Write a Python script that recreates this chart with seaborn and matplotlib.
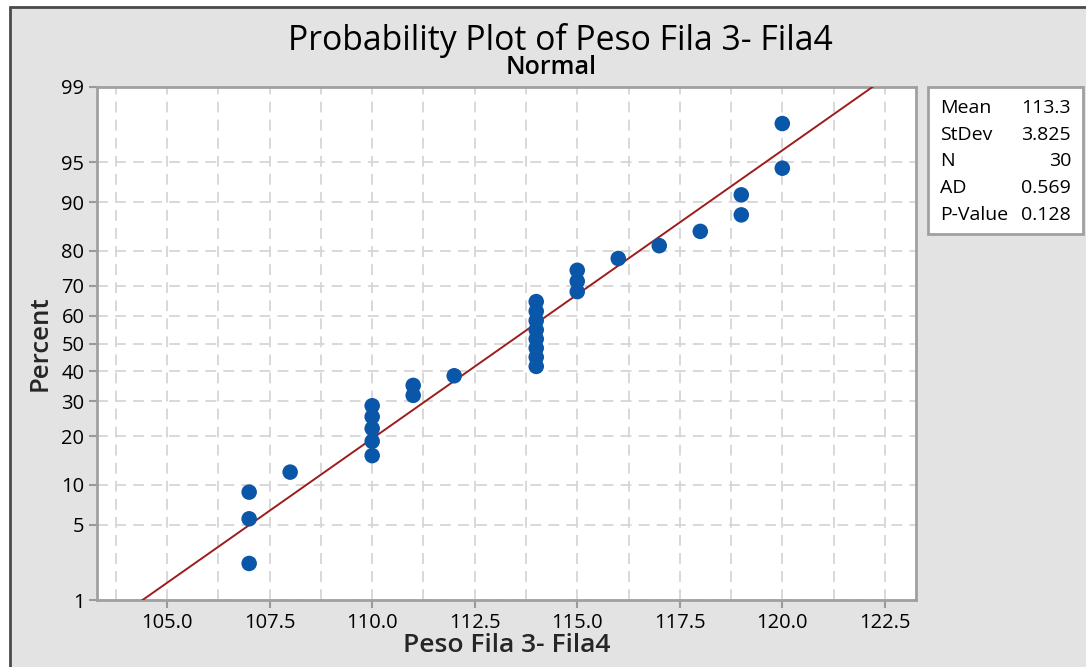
import math
import numpy as np
import pandas as pd
import matplotlib
matplotlib.use("Agg")
import matplotlib.pyplot as plt
from matplotlib.patches import Rectangle
from matplotlib.ticker import MultipleLocator, FixedLocator, FixedFormatter
import seaborn as sns

# ---------------- data ----------------
peso = [107, 107, 107, 108, 110, 110, 110, 110, 110, 111, 111, 112,
        114, 114, 114, 114, 114, 114, 114, 114, 115, 115, 115, 116,
        117, 118, 119, 119, 120, 120]
stat_names = ["Mean", "StDev", "N", "AD", "P-Value"]
stat_values = ["113.3", "3.825", "30", "0.569", "0.128"]
mean_fit = 113.3
sd_fit = 3.825
y_ticks = [1, 5, 10, 20, 30, 40, 50, 60, 70, 80, 90, 95, 99]
x_ticks = [105.0, 107.5, 110.0, 112.5, 115.0, 117.5, 120.0, 122.5]

title = "Probability Plot of Peso Fila 3- Fila4"
subtitle = "Normal"
xlabel = "Peso Fila 3- Fila4"
ylabel = "Percent"

# ---------------- normal helpers ----------------
_erf = np.vectorize(math.erf)


def norm_cdf(z):
    z = np.asarray(z, float)
    return 0.5 * (1.0 + _erf(z / math.sqrt(2.0)))


def norm_ppf(p):
    p = np.asarray(p, float)
    shape = p.shape
    p = np.clip(np.atleast_1d(p).astype(float), 1e-12, 1 - 1e-12)
    a = [-3.969683028665376e+01, 2.209460984245205e+02, -2.759285104469687e+02,
         1.383577518672690e+02, -3.066479806614716e+01, 2.506628277459239e+00]
    b = [-5.447609879822406e+01, 1.615858368580409e+02, -1.556989798598866e+02,
         6.680131188771972e+01, -1.328068155288572e+01]
    c = [-7.784894002430293e-03, -3.223964580411365e-01, -2.400758277161838e+00,
         -2.549671010366935e+00, 4.374664141464968e+00, 2.938163982698783e+00]
    d = [7.784695709041462e-03, 3.224671290700398e-01, 2.445134137142996e+00,
         3.754408661907416e+00]
    plow = 0.02425
    phigh = 1 - plow
    x = np.empty_like(p)
    lo = p < plow
    hi = p > phigh
    mid = ~(lo | hi)
    q = np.sqrt(-2 * np.log(p[lo]))
    x[lo] = (((((c[0]*q+c[1])*q+c[2])*q+c[3])*q+c[4])*q+c[5]) / \
        ((((d[0]*q+d[1])*q+d[2])*q+d[3])*q+1)
    q = np.sqrt(-2 * np.log(1 - p[hi]))
    x[hi] = -(((((c[0]*q+c[1])*q+c[2])*q+c[3])*q+c[4])*q+c[5]) / \
        ((((d[0]*q+d[1])*q+d[2])*q+d[3])*q+1)
    q = p[mid] - 0.5
    r = q * q
    x[mid] = (((((a[0]*r+a[1])*r+a[2])*r+a[3])*r+a[4])*r+a[5])*q / \
        (((((b[0]*r+b[1])*r+b[2])*r+b[3])*r+b[4])*r+1)
    return x.reshape(shape)


def fwd(pct):
    return norm_ppf(np.asarray(pct, float) / 100.0)


def inv(z):
    return 100.0 * norm_cdf(z)


# plotting positions (Benard median ranks, as used by the probability plot)
xs = np.sort(np.array(peso, float))
n = len(xs)
ranks = np.arange(1, n + 1)
pct = 100.0 * (ranks - 0.3) / (n + 0.4)
df_pts = pd.DataFrame({"x": xs, "pct": pct})

xline = np.linspace(103.0, 124.0, 400)
df_line = pd.DataFrame({"x": xline, "pct": inv((xline - mean_fit) / sd_fit)})

# ---------------- figure ----------------
sns.set_theme(style="white")
plt.rcParams["font.family"] = ["Open Sans", "DejaVu Sans"]

W, H = 1086, 667
fig = plt.figure(figsize=(W / 100, H / 100), dpi=100, facecolor="white")

# grey panel with frame
fig.patches.append(Rectangle((10 / W, -0.05), 1.2, (H - 7) / H + 0.05,
                             transform=fig.transFigure, facecolor="#e3e3e3",
                             edgecolor="#4a4a4a", lw=2.0, zorder=-10))

ax = fig.add_axes([97 / W, (H - 600) / H, (916 - 97) / W, (600 - 87) / H])
ax.set_zorder(1)
ax.set_facecolor("white")
ax.set_yscale("function", functions=(fwd, inv))

grid_kw = dict(color="#d6d6d6", lw=1.3, linestyle=(0, (6, 4)))

sns.lineplot(data=df_line, x="x", y="pct", ax=ax, color="#9e1c1c", lw=1.4,
             zorder=3, sort=True)
sns.scatterplot(data=df_pts, x="x", y="pct", ax=ax, color="#0a56a8", s=125,
                edgecolor="none", linewidth=0, zorder=4)

ax.set_xlim(103.29, 123.26)
ax.set_ylim(1, 99)

ax.xaxis.set_major_locator(FixedLocator(x_ticks))
ax.xaxis.set_major_formatter(FixedFormatter([f"{v:.1f}" for v in x_ticks]))
ax.xaxis.set_minor_locator(MultipleLocator(1.25))
ax.yaxis.set_major_locator(FixedLocator(y_ticks))
ax.yaxis.set_major_formatter(FixedFormatter([str(v) for v in y_ticks]))
ax.yaxis.set_minor_locator(FixedLocator([]))

ax.grid(True, which="major", axis="y", **grid_kw)
ax.grid(True, which="both", axis="x", **grid_kw)
ax.set_axisbelow(True)

ax.tick_params(axis="both", which="major", direction="out", length=6,
               width=1.5, color="#9a9a9a", labelsize=14.5, labelcolor="black",
               pad=3, bottom=True, left=True)
ax.tick_params(axis="x", which="minor", length=0)

for side in ["top", "right", "left", "bottom"]:
    ax.spines[side].set_visible(True)
    ax.spines[side].set_color("#a0a0a0")
    ax.spines[side].set_linewidth(2.0)

ax.set_xlabel(xlabel, fontsize=19, fontweight="semibold", labelpad=0)
ax.set_ylabel(ylabel, fontsize=18.6, fontweight="semibold", labelpad=6)

fig.text(560 / W, 1 - 40 / H, title, fontsize=24.3, ha="center",
         va="center", color="black")
fig.text(551 / W, 1 - 68 / H, subtitle, fontsize=18, ha="center",
         va="center", fontweight="semibold", color="black")

# stats box
fig.patches.append(Rectangle((928 / W, 1 - 234 / H), 155 / W, 147 / H,
                             transform=fig.transFigure, facecolor="white",
                             edgecolor="#a0a0a0", lw=2.0, zorder=1))
for i, (nm, val) in enumerate(zip(stat_names, stat_values)):
    yb = 1 - (113 + 26.7 * i) / H
    fig.text(940 / W, yb, nm, fontsize=14, ha="left", va="baseline",
             color="black", zorder=2)
    fig.text(1071 / W, yb, val, fontsize=14, ha="right", va="baseline",
             color="black", zorder=2)

fig.savefig("out.png", dpi=100, facecolor=fig.get_facecolor())
